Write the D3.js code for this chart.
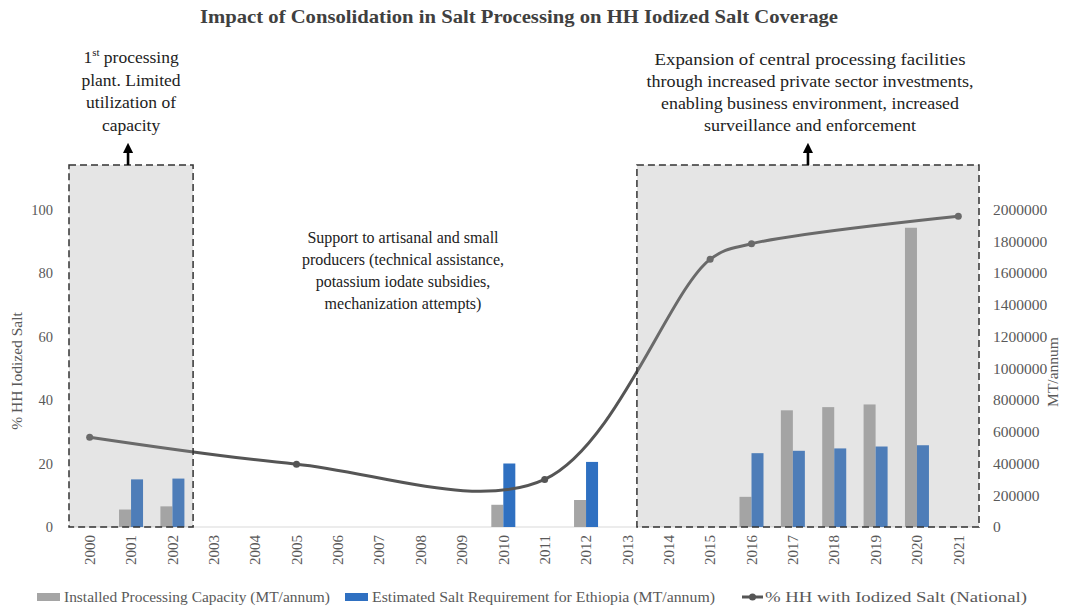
<!DOCTYPE html>
<html>
<head>
<meta charset="utf-8">
<script src="https://cdn.jsdelivr.net/npm/d3@7"></script>
<style>
  html, body { margin: 0; padding: 0; background: #fff; }
  svg { display: block; font-family: "Liberation Serif", "Times New Roman", serif; }
</style>
</head>
<body>
<svg id="chart" width="1066" height="608"></svg>
<script>
// ---------------- data ----------------
const years = ["2000","2001","2002","2003","2004","2005","2006","2007","2008","2009","2010",
               "2011","2012","2013","2014","2015","2016","2017","2018","2019","2020","2021"];
// Installed Processing Capacity (MT/annum)
const capacity = [null,110000,130000,null,null,null,null,null,null,null,140000,
                  null,170000,null,null,null,190000,735000,755000,772000,1885000,null];
// Estimated Salt Requirement for Ethiopia (MT/annum)
const requirement = [null,300000,305000,null,null,null,null,null,null,null,400000,
                     null,410000,null,null,null,465000,480000,495000,507000,515000,null];
// % HH with Iodized Salt (National)
const coverage = [28.3,null,null,null,null,19.8,null,null,null,null,null,
                  15.0,null,null,null,84.3,89.2,null,null,null,null,97.9];
const leftTicks = [0,20,40,60,80,100];
const rightTicks = [0,200000,400000,600000,800000,1000000,1200000,1400000,1600000,1800000,2000000];
const seriesNames = ["Installed Processing Capacity (MT/annum)",
                     "Estimated Salt Requirement for Ethiopia (MT/annum)",
                     "% HH with Iodized Salt (National)"];
const title = "Impact of Consolidation in Salt Processing on HH Iodized Salt Coverage";
const noteLeft = ["processing", "plant. Limited", "utilization of", "capacity"];
const noteMid = ["Support to artisanal and small", "producers (technical assistance,",
                 "potassium iodate subsidies,", "mechanization attempts)"];
const noteRight = ["Expansion of central processing facilities",
                   "through increased private sector investments,",
                   "enabling business environment, increased",
                   "surveillance and enforcement"];

// ---------------- layout ----------------
const svg = d3.select("#chart");
const plotL = 69, plotR = 979, baseY = 527, y100 = 209.5;
const grayC = "#a5a5a5", blueC = "#2f70c1", lineC = "#555555", axisTxt = "#595959";

const x = d3.scaleBand().domain(years).range([plotL, plotR]).padding(0);
const bw = x.bandwidth();
const xs = d3.scaleBand().domain(["cap","req"]).range([bw/2 - 12, bw/2 + 12]);
const yL = d3.scaleLinear().domain([0,100]).range([baseY, y100]);
const yR = d3.scaleLinear().domain([0,2000000]).range([baseY, y100]);

// title
svg.append("text").attr("x", 519).attr("y", 23).attr("text-anchor","middle")
  .attr("font-weight","bold").attr("font-size", 19).attr("fill","#404040")
  .attr("textLength", 638).attr("lengthAdjust","spacingAndGlyphs").text(title);

// baseline
svg.append("line").attr("x1", plotL).attr("x2", plotR).attr("y1", baseY).attr("y2", baseY)
  .attr("stroke","#d9d9d9").attr("stroke-width",1);

// bars
const barData = years.map((yr,i) => ({yr, cap: capacity[i], req: requirement[i]}));
const g = svg.append("g");
g.selectAll("rect.cap").data(barData.filter(d => d.cap != null)).join("rect")
  .attr("class","cap")
  .attr("x", d => x(d.yr) + xs("cap")).attr("width", xs.bandwidth())
  .attr("y", d => yR(d.cap)).attr("height", d => baseY - yR(d.cap))
  .attr("fill", grayC);
g.selectAll("rect.req").data(barData.filter(d => d.req != null)).join("rect")
  .attr("class","req")
  .attr("x", d => x(d.yr) + xs("req")).attr("width", xs.bandwidth())
  .attr("y", d => yR(d.req)).attr("height", d => baseY - yR(d.req))
  .attr("fill", blueC);

// line
const linePts = years.map((yr,i) => ({yr, v: coverage[i]})).filter(d => d.v != null);
const line = d3.line().x(d => x(d.yr) + bw/2).y(d => yL(d.v)).curve(d3.curveCatmullRom.alpha(0.5));
svg.append("path").datum(linePts).attr("d", line).attr("fill","none")
  .attr("stroke", lineC).attr("stroke-width", 3);
svg.selectAll("circle.pt").data(linePts).join("circle").attr("class","pt")
  .attr("cx", d => x(d.yr) + bw/2).attr("cy", d => yL(d.v)).attr("r", 3.5).attr("fill", lineC);

// annotation boxes (semi-transparent overlays)
const boxTop = yL(114);
const boxes = [
  {x0: x("2000"), x1: x("2002") + bw},
  {x0: x("2013") + 0.73*bw, x1: x("2021") + bw}
];
svg.selectAll("rect.box").data(boxes).join("rect").attr("class","box")
  .attr("x", d => d.x0).attr("y", boxTop).attr("width", d => d.x1 - d.x0).attr("height", baseY - boxTop)
  .attr("fill","rgba(163,163,163,0.28)").attr("stroke","#333").attr("stroke-width",1.5)
  .attr("stroke-dasharray","7,4");

// arrows
svg.append("defs").append("marker").attr("id","ah").attr("viewBox","0 0 10 10")
  .attr("refX",5).attr("refY",5).attr("markerWidth",4).attr("markerHeight",4)
  .attr("orient","auto").append("path").attr("d","M0,0 L10,5 L0,10 z").attr("fill","#000");
boxes.forEach(b => {
  const cx = (b.x0 + b.x1)/2 - (b === boxes[0] ? 3 : 0);
  svg.append("line").attr("x1",cx).attr("x2",cx).attr("y1",boxTop).attr("y2",148)
    .attr("stroke","#000").attr("stroke-width",2.6).attr("marker-end","url(#ah)");
});

// annotation texts
function note(lines, cx, y0, dy, fs, widths) {
  const t = svg.append("text").attr("text-anchor","middle").attr("font-size",fs).attr("fill","#222");
  lines.forEach((s,i) => {
    const sp = t.append("tspan").attr("x",cx).attr("y", y0 + i*dy).text(s);
    if (widths) sp.attr("textLength", widths[i]).attr("lengthAdjust","spacingAndGlyphs");
  });
  return t;
}
// left note with superscript
{
  const cx = (boxes[0].x0 + boxes[0].x1)/2;
  const t = svg.append("text").attr("text-anchor","middle").attr("font-size",17.5).attr("fill","#222");
  const l1 = t.append("tspan").attr("x",cx).attr("y",63);
  l1.append("tspan").text("1");
  l1.append("tspan").attr("font-size",11).attr("dy",-7).text("st");
  l1.append("tspan").attr("dy",7).text(" " + noteLeft[0]);
  noteLeft.slice(1).forEach((s,i) => t.append("tspan").attr("x",cx).attr("y",63 + (i+1)*22.5).text(s));
}
note(noteMid, 403, 243, 22, 16);
note(noteRight, 810, 65, 22, 17.5, [311, 327, 298, 212]);

// axes
const axL = svg.append("g").attr("transform",`translate(${plotL},0)`)
  .call(d3.axisLeft(yL).tickValues(leftTicks).tickSize(0).tickPadding(16));
const axR = svg.append("g").attr("transform",`translate(${plotR},0)`)
  .call(d3.axisRight(yR).tickValues(rightTicks).tickSize(0).tickPadding(14).tickFormat(d3.format("d")));
const axB = svg.append("g").attr("transform",`translate(0,${baseY})`)
  .call(d3.axisBottom(x).tickSize(0));
[axL, axR, axB].forEach(a => {
  a.select(".domain").remove();
  a.selectAll("text").attr("font-family","Liberation Serif, serif").attr("font-size",14.5).attr("fill",axisTxt);
});
axR.selectAll("text").attr("font-size",15.5);
axB.selectAll("text").attr("transform","rotate(-90)").attr("text-anchor","end")
  .attr("x",-8).attr("y",0).attr("dy","0.35em").attr("font-size",15);

// axis titles
svg.append("text").attr("transform","translate(22,371) rotate(-90)").attr("text-anchor","middle")
  .attr("font-size",15.5).attr("fill",axisTxt).text("% HH Iodized Salt");
svg.append("text").attr("transform","translate(1058,372) rotate(-90)").attr("text-anchor","middle")
  .attr("font-size",15.5).attr("fill",axisTxt).text("MT/annum");

// legend
const leg = svg.append("g").attr("font-size",14.5).attr("fill",axisTxt);
const legX = [37, 345, 742];
leg.append("rect").attr("x",legX[0]).attr("y",593).attr("width",23).attr("height",8).attr("fill",grayC);
leg.append("rect").attr("x",legX[1]).attr("y",593).attr("width",23).attr("height",8).attr("fill",blueC);
leg.append("line").attr("x1",legX[2]).attr("x2",legX[2]+21).attr("y1",597).attr("y2",597)
  .attr("stroke",lineC).attr("stroke-width",3);
leg.append("circle").attr("cx",legX[2]+10.5).attr("cy",597).attr("r",3.5).attr("fill",lineC);
const legTxtX = [64, 372, 765], legW = [266, 343, 262];
seriesNames.forEach((s,i) => leg.append("text").attr("x",legTxtX[i]).attr("y",602)
  .attr("textLength",legW[i]).attr("lengthAdjust","spacingAndGlyphs").text(s));
</script>
</body>
</html>
